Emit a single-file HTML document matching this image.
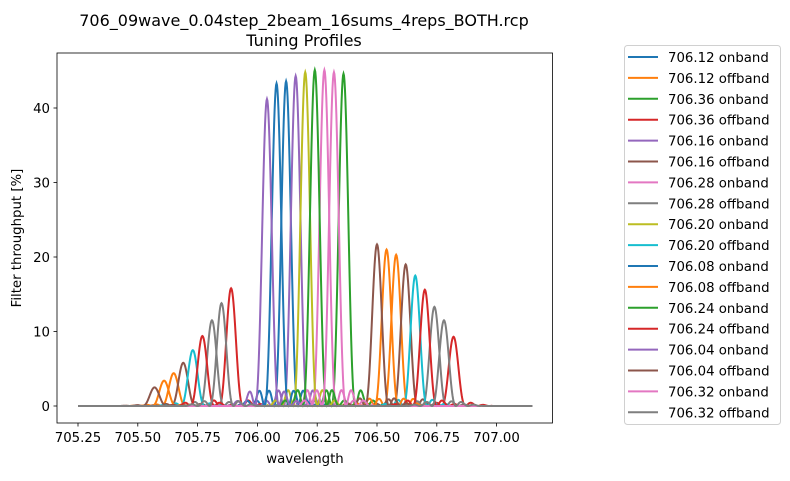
<!DOCTYPE html>
<html><head><meta charset="utf-8"><style>
body{margin:0;background:#fff;}
svg text{font-family:"DejaVu Sans","Liberation Sans",sans-serif;fill:#000;}
</style></head><body>
<svg width="790" height="476" viewBox="0 0 790 476" xmlns="http://www.w3.org/2000/svg">
<g id="plot"></g>
<g id="axes"></g>
<g id="legend"></g>
</svg>
<script>
const seriesLabels = ["706.12 onband","706.12 offband","706.36 onband","706.36 offband","706.16 onband","706.16 offband","706.28 onband","706.28 offband","706.20 onband","706.20 offband","706.08 onband","706.08 offband","706.24 onband","706.24 offband","706.04 onband","706.04 offband","706.32 onband","706.32 offband"];
const seriesColors = ["#1f77b4","#ff7f0e","#2ca02c","#d62728","#9467bd","#8c564b","#e377c2","#7f7f7f","#bcbd22","#17becf","#1f77b4","#ff7f0e","#2ca02c","#d62728","#9467bd","#8c564b","#e377c2","#7f7f7f"];
const nominalWave = [706.12,706.12,706.36,706.36,706.16,706.16,706.28,706.28,706.20,706.20,706.08,706.08,706.24,706.24,706.04,706.04,706.32,706.32];
const isOffband = [0,1,0,1,0,1,0,1,0,1,0,1,0,1,0,1,0,1];
const onPeak = [43.6,0,44.6,0,44.3,0,45.1,0,44.8,0,43.3,0,45.1,0,41.2,0,44.8,0];
const offLeftPeak = [0,4.4,0,15.8,0,5.8,0,11.5,0,7.5,0,3.4,0,9.4,0,2.5,0,13.8];
const offRightPeak = [0,20.3,0,9.3,0,19.0,0,13.3,0,17.5,0,21.0,0,15.6,0,21.7,0,11.5];
const xTicks = [705.25,705.50,705.75,706.00,706.25,706.50,706.75,707.00];
const yTicks = [0,10,20,30,40];

const X0=78, XS=239.2, Y0=406, YS=7.45;
const xs = w => X0 + (w-705.25)*XS;
const ys = v => Y0 - v*YS;
const NS="http://www.w3.org/2000/svg";
function mk(tag, attrs, parent){const e=document.createElementNS(NS,tag);for(const k in attrs)e.setAttribute(k,attrs[k]);parent.appendChild(e);return e;}
function profile(w,c,a){
  const u=Math.PI*(w-c)/0.05;
  if(Math.abs(u)<1e-9) return a;
  if(Math.abs(w-c)>0.16) return 0;
  const s=Math.sin(u)/u;
  return a*s*s;
}
const plot=document.getElementById('plot');
for(let i=0;i<seriesLabels.length;i++){
  let d="";
  for(let w=705.25;w<=707.15;w+=0.002){
    let v;
    if(isOffband[i]) v=profile(w,nominalWave[i]-0.47,offLeftPeak[i])+profile(w,nominalWave[i]+0.46,offRightPeak[i]);
    else v=profile(w,nominalWave[i],onPeak[i]);
    d+=(d?"L":"M")+xs(w).toFixed(2)+","+ys(v).toFixed(2);
  }
  const p=mk('path',{d:d,fill:'none',stroke:seriesColors[i],'stroke-width':2},plot);
  
  
}
const axes=document.getElementById('axes');
const fr=mk('rect',{x:57,y:53,width:495.5,height:370,fill:'none',stroke:'#000','stroke-width':0.8},axes);


xTicks.forEach(t=>{
  mk('line',{x1:xs(t),x2:xs(t),y1:423,y2:426.5,stroke:'#000','stroke-width':0.8},axes);
  const tx=mk('text',{x:xs(t),y:442,'text-anchor':'middle','font-size':13.3},axes);
  tx.textContent=t.toFixed(2);
  
  
});
yTicks.forEach(t=>{
  mk('line',{x1:53.5,x2:57,y1:ys(t),y2:ys(t),stroke:'#000','stroke-width':0.8},axes);
  const tx=mk('text',{x:50,y:ys(t)+5,'text-anchor':'end','font-size':13.3},axes);
  tx.textContent=t;
  
  
});
let t=mk('text',{x:305,y:463,'text-anchor':'middle','font-size':13.3},axes);t.textContent='wavelength';


t=mk('text',{x:21,y:238,'text-anchor':'middle','font-size':13.3,transform:'rotate(-90 21 238)'},axes);t.textContent='Filter throughput [%]';


t=mk('text',{x:304,y:26,'text-anchor':'middle','font-size':16},axes);t.textContent='706_09wave_0.04step_2beam_16sums_4reps_BOTH.rcp';


t=mk('text',{x:304,y:46,'text-anchor':'middle','font-size':16},axes);t.textContent='Tuning Profiles';


const lg=document.getElementById('legend');
const lb=mk('rect',{x:624.5,y:45.5,width:156,height:379,rx:3,fill:'#fff',stroke:'#d0d0d0','stroke-width':1},lg);


seriesLabels.forEach((s,i)=>{
  const y=57+i*20.9;
  const g=mk('g',{},lg);
  
  
  mk('line',{x1:628,x2:658,y1:y,y2:y,stroke:seriesColors[i],'stroke-width':2},g);
  const tx=mk('text',{x:668,y:y+5,'font-size':13.3},g);tx.textContent=s;
});
</script>
</body></html>
